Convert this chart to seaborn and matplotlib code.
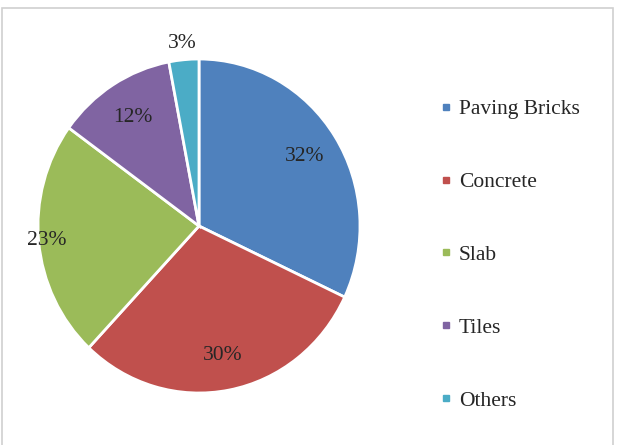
import matplotlib
matplotlib.use("Agg")
import matplotlib.pyplot as plt
from matplotlib.lines import Line2D
from matplotlib.patches import Rectangle
import numpy as np
import seaborn as sns

categories = ["Paving Bricks", "Concrete", "Slab", "Tiles", "Others"]
shares = [32, 30, 23, 12, 3]
pct_labels = ["32%", "30%", "23%", "12%", "3%"]
label_radius = [0.78, 0.79, 0.95, 0.77, 1.10]

sns.set_theme(style="white")
plt.rcParams["font.family"] = ["Liberation Serif", "DejaVu Serif"]
colors = ["#4F81BD", "#C0504D", "#9BBB59", "#8064A2", "#4BACC6"]

W, H = 620, 445
fig = plt.figure(figsize=(W / 100, H / 100), dpi=100)
fig.patch.set_facecolor("white")

# outer chart frame (runs past the lower edge)
fig.add_artist(Rectangle((2 / W, -0.05), 611 / W, (H - 8) / H + 0.05, transform=fig.transFigure,
                         fill=False, edgecolor="#D0D0D0", linewidth=1.2))

cx, cy, rx, ry = 199, 226, 161, 167
ax = fig.add_axes([(cx - rx) / W, (H - cy - ry) / H, 2 * rx / W, 2 * ry / H])
wedges, _ = ax.pie(shares, colors=colors, startangle=90, counterclock=False,
                   wedgeprops=dict(edgecolor="white", linewidth=2))
ax.set_aspect("auto")
ax.set_xlim(-1, 1)
ax.set_ylim(-1, 1)

for w, txt, k in zip(wedges, pct_labels, label_radius):
    mid = np.deg2rad((w.theta1 + w.theta2) / 2)
    ax.text(k * np.cos(mid), k * np.sin(mid), txt, ha="center", va="center",
            fontsize=15.5, color="#262626", clip_on=False)

handles = [Line2D([], [], marker="s", linestyle="none", markersize=4.5,
                  markerfacecolor=c, markeredgecolor=c) for c in colors]
fig.legend(handles, categories, loc="center left", bbox_to_anchor=(430 / W, 1 - 255 / H),
           frameon=False, fontsize=15.5, handlelength=0.5, handletextpad=0.35,
           labelspacing=2.45, borderpad=0, labelcolor="#262626")

fig.savefig("out.png", dpi=100, facecolor="white")
